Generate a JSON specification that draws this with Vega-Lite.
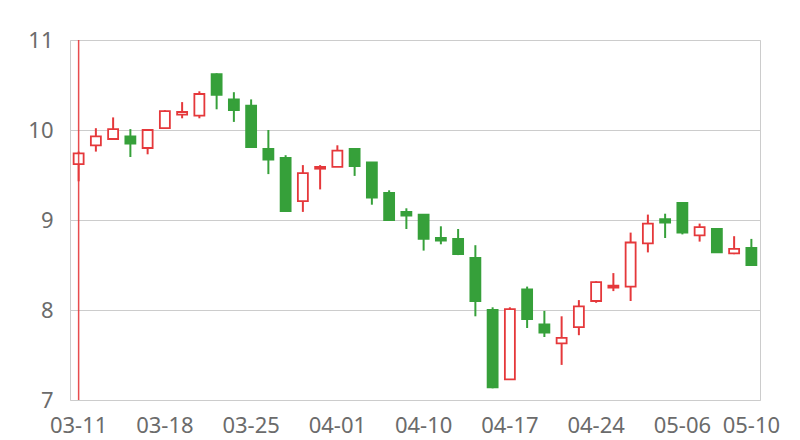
{
  "$schema": "https://vega.github.io/schema/vega-lite/v6.json",
  "width": 690,
  "height": 360,
  "autosize": "none",
  "padding": {"left": 70, "top": 40, "right": 40, "bottom": 40},
  "background": "white",
  "config": {
    "view": {"stroke": "#cccccc", "strokeWidth": 1},
    "font": "Noto Sans"
  },
  "datasets": {
    "k": [
      {"d": "03-11", "o": 9.62, "c": 9.74, "h": 9.76, "l": 9.43},
      {"d": "03-12", "o": 9.83, "c": 9.93, "h": 10.02, "l": 9.76},
      {"d": "03-13", "o": 9.90, "c": 10.01, "h": 10.14, "l": 9.90},
      {"d": "03-14", "o": 9.93, "c": 9.85, "h": 10.01, "l": 9.70},
      {"d": "03-15", "o": 9.80, "c": 10.00, "h": 10.00, "l": 9.73},
      {"d": "03-18", "o": 10.02, "c": 10.21, "h": 10.22, "l": 10.02},
      {"d": "03-19", "o": 10.17, "c": 10.20, "h": 10.31, "l": 10.13},
      {"d": "03-20", "o": 10.16, "c": 10.40, "h": 10.43, "l": 10.13},
      {"d": "03-21", "o": 10.62, "c": 10.39, "h": 10.63, "l": 10.23},
      {"d": "03-22", "o": 10.34, "c": 10.22, "h": 10.42, "l": 10.09},
      {"d": "03-25", "o": 10.27, "c": 9.81, "h": 10.34, "l": 9.80},
      {"d": "03-26", "o": 9.79, "c": 9.67, "h": 10.00, "l": 9.51},
      {"d": "03-27", "o": 9.69, "c": 9.10, "h": 9.72, "l": 9.09},
      {"d": "03-28", "o": 9.21, "c": 9.52, "h": 9.61, "l": 9.09},
      {"d": "03-29", "o": 9.57, "c": 9.59, "h": 9.61, "l": 9.34},
      {"d": "04-01", "o": 9.59, "c": 9.77, "h": 9.83, "l": 9.59},
      {"d": "04-02", "o": 9.79, "c": 9.60, "h": 9.80, "l": 9.49},
      {"d": "04-03", "o": 9.64, "c": 9.25, "h": 9.64, "l": 9.17},
      {"d": "04-08", "o": 9.30, "c": 9.00, "h": 9.33, "l": 9.00},
      {"d": "04-09", "o": 9.09, "c": 9.05, "h": 9.13, "l": 8.90},
      {"d": "04-10", "o": 9.06, "c": 8.79, "h": 9.06, "l": 8.66},
      {"d": "04-11", "o": 8.80, "c": 8.77, "h": 8.93, "l": 8.73},
      {"d": "04-12", "o": 8.79, "c": 8.62, "h": 8.90, "l": 8.61},
      {"d": "04-15", "o": 8.58, "c": 8.10, "h": 8.72, "l": 7.93},
      {"d": "04-16", "o": 8.00, "c": 7.14, "h": 8.03, "l": 7.13},
      {"d": "04-17", "o": 7.23, "c": 8.01, "h": 8.03, "l": 7.23},
      {"d": "04-18", "o": 8.23, "c": 7.90, "h": 8.26, "l": 7.80},
      {"d": "04-19", "o": 7.84, "c": 7.75, "h": 7.99, "l": 7.70},
      {"d": "04-22", "o": 7.63, "c": 7.69, "h": 7.93, "l": 7.39},
      {"d": "04-23", "o": 7.81, "c": 8.04, "h": 8.11, "l": 7.72},
      {"d": "04-24", "o": 8.10, "c": 8.31, "h": 8.32, "l": 8.08},
      {"d": "04-25", "o": 8.25, "c": 8.27, "h": 8.41, "l": 8.21},
      {"d": "04-26", "o": 8.26, "c": 8.75, "h": 8.86, "l": 8.10},
      {"d": "04-29", "o": 8.74, "c": 8.96, "h": 9.06, "l": 8.64},
      {"d": "04-30", "o": 9.01, "c": 8.97, "h": 9.07, "l": 8.80},
      {"d": "05-06", "o": 9.19, "c": 8.86, "h": 9.20, "l": 8.84},
      {"d": "05-07", "o": 8.83, "c": 8.92, "h": 8.96, "l": 8.76},
      {"d": "05-08", "o": 8.90, "c": 8.64, "h": 8.90, "l": 8.64},
      {"d": "05-09", "o": 8.63, "c": 8.68, "h": 8.82, "l": 8.62},
      {"d": "05-10", "o": 8.69, "c": 8.50, "h": 8.79, "l": 8.50}
    ],
    "mark": [{"d": "03-11"}]
  },
  "data": {"name": "k"},
  "encoding": {
    "x": {
      "field": "d",
      "type": "ordinal",
      "sort": null,
      "scale": {"type": "band", "paddingInner": 0, "paddingOuter": 0},
      "axis": {
        "title": null,
        "labelAngle": 0,
        "ticks": false,
        "domain": false,
        "grid": false,
        "labelOverlap": false,
        "labelFontSize": 22,
        "labelColor": "#6b6b6b",
        "labelPadding": 15,
        "labelExpr": "indexof(['03-11','03-18','03-25','04-01','04-10','04-17','04-24','05-06','05-10'], datum.value) >= 0 ? datum.value : ''"
      }
    }
  },
  "layer": [
    {
      "mark": {"type": "rule", "strokeWidth": 2},
      "encoding": {
        "y": {
          "field": "l",
          "type": "quantitative",
          "scale": {"domain": [7, 11], "nice": false, "zero": false},
          "axis": {
            "title": null,
            "values": [7, 8, 9, 10, 11],
            "format": "d",
            "ticks": false,
            "domain": false,
            "gridColor": "#cccccc",
            "gridWidth": 1,
            "labelFontSize": 22,
            "labelColor": "#6b6b6b",
            "labelPadding": 17
          }
        },
        "y2": {"field": "h"},
        "stroke": {
          "condition": {"test": "datum.c >= datum.o", "value": "#e5383b"},
          "value": "#36a03a"
        }
      }
    },
    {
      "mark": {"type": "bar", "size": 10, "strokeWidth": 1.8},
      "encoding": {
        "y": {"field": "o", "type": "quantitative"},
        "y2": {"field": "c"},
        "fill": {
          "condition": {"test": "datum.c >= datum.o", "value": "#ffffff"},
          "value": "#36a03a"
        },
        "stroke": {
          "condition": {"test": "datum.c >= datum.o", "value": "#e5383b"},
          "value": "#36a03a"
        }
      }
    },
    {
      "data": {"name": "mark"},
      "mark": {"type": "rule", "color": "#e5383b", "strokeWidth": 1.5, "opacity": 0.9},
      "encoding": {
        "x": {"field": "d", "type": "ordinal", "sort": null}
      }
    }
  ]
}
